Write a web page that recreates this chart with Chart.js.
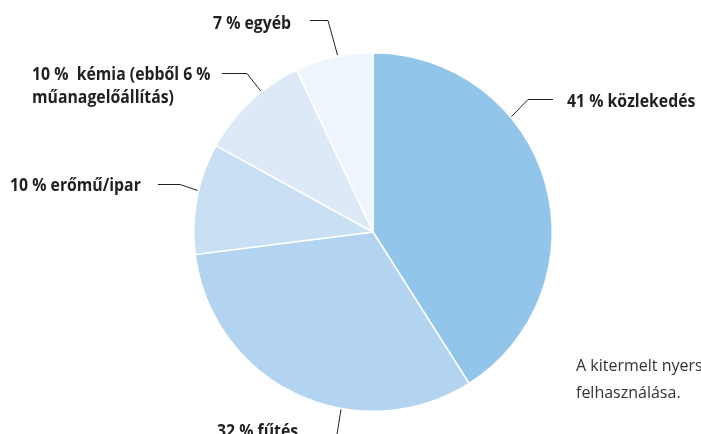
<!DOCTYPE html>
<html>
<head>
<meta charset="utf-8">
<script src="https://cdn.jsdelivr.net/npm/chart.js@4.4.0/dist/chart.umd.min.js"></script>
<style>
  html, body { margin: 0; padding: 0; background: #fff; }
  #chart { display: block; }
</style>
</head>
<body>
<canvas id="chart" width="701" height="434"></canvas>
<script>
// data, clockwise from 12 o'clock
var categories = ['közlekedés', 'fűtés', 'erőmű/ipar', 'kémia', 'egyéb'];
var shares = [41, 32, 10, 10, 7];
var labelLines = [
  ['41 % közlekedés'],
  ['32 % fűtés'],
  ['10 % erőmű/ipar'],
  ['10 %  kémia (ebből 6 %', 'műanagelőállítás)'],
  ['7 % egyéb']
];
var captionLines = ['A kitermelt nyersolaj', 'felhasználása.'];

(function render(win, doc) {
  var sliceColors = ['#92c5ea', '#b2d4f0', '#c9dff4', '#dde9f6', '#eff5fc'];
  var textColor = '#231f20';
  var boldFont = 'bold 17px "Open Sans", "Noto Sans", sans-serif';
  var plainFont = '16px "Open Sans", "Noto Sans", sans-serif';
  var squeeze = 0.93; // the original face is a narrow one

  // callout placement: where on the slice the leader starts (0..1 along the arc),
  // the bend and end of the leader, and where the text sits
  var callouts = [
    { at: 0.34, bend: [528, 99], end: [553, 99], text: [567, 107] },
    { at: 0.37, bend: [337, 434], end: [337, 434], text: [217, 437] },
    { at: 0.57, bend: [180, 184], end: [158, 184], text: [10, 191] },
    { at: 0.63, bend: [247, 73], end: [222, 73], text: [32, 80] },
    { at: 0.55, bend: [328, 20], end: [310, 20], text: [213, 29] }
  ];
  var lineGap = 23;

  function squeezedText(ctx, text, x, y) {
    ctx.save();
    ctx.translate(x, y);
    ctx.scale(squeeze, 1);
    ctx.fillText(text, 0, 0);
    ctx.restore();
  }

  function drawCallouts(chart) {
    var ctx = chart.ctx;
    var arcs = chart.getDatasetMeta(0).data;
    ctx.save();
    ctx.strokeStyle = '#231f20';
    ctx.lineWidth = 1;
    ctx.fillStyle = textColor;
    ctx.textBaseline = 'alphabetic';
    ctx.textAlign = 'left';
    arcs.forEach(function (arc, i) {
      var c = callouts[i];
      var p = arc.getProps(['x', 'y', 'startAngle', 'endAngle', 'outerRadius'], true);
      var a = p.startAngle + (p.endAngle - p.startAngle) * c.at;
      var r = p.outerRadius + 1;
      var ax = p.x + Math.cos(a) * r;
      var ay = p.y + Math.sin(a) * r;
      ctx.beginPath();
      ctx.moveTo(ax, ay);
      ctx.lineTo(c.bend[0], c.bend[1] + 0.5);
      ctx.lineTo(c.end[0], c.end[1] + 0.5);
      ctx.stroke();

      ctx.font = boldFont;
      labelLines[i].forEach(function (line, k) {
        squeezedText(ctx, line, c.text[0], c.text[1] + k * lineGap);
      });
    });

    ctx.font = plainFont;
    ctx.fillStyle = '#333333';
    captionLines.forEach(function (line, k) {
      ctx.fillText(line, 576, 371 + k * 27);
    });
    ctx.restore();
  }

  win.addEventListener('load', function () {
    var ctx = doc.querySelector('#chart').getContext('2d');
    new Chart(ctx, {
      type: 'pie',
      data: {
        labels: categories,
        datasets: [{
          data: shares,
          backgroundColor: sliceColors,
          borderColor: '#ffffff',
          borderWidth: 1.5
        }]
      },
      options: {
        responsive: false,
        devicePixelRatio: 1,
        animation: false,
        layout: { padding: { left: 193, right: 148, top: 52, bottom: 22 } },
        plugins: {
          legend: { display: false },
          tooltip: { enabled: false }
        }
      },
      plugins: [{ id: 'callouts', afterDraw: drawCallouts }]
    });
  });
})(window, document);
</script>
</body>
</html>
